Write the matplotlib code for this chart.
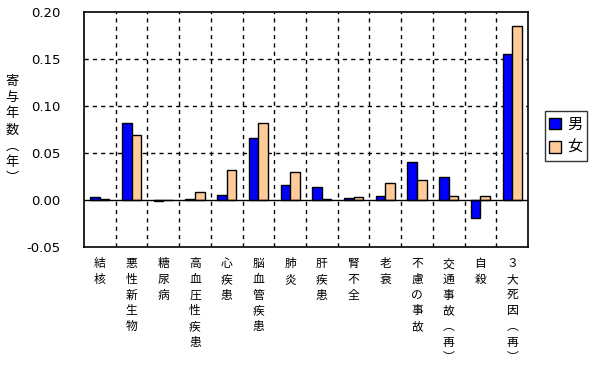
import matplotlib
matplotlib.use("Agg")
import matplotlib.pyplot as plt
import numpy as np

plt.rcParams['font.family'] = ['Noto Sans CJK JP', 'DejaVu Sans']

categories = ["結核", "悪性新生物", "糖尿病", "高血圧性疾患", "心疾患", "脳血管疾患",
              "肺炎", "肝疾患", "腎不全", "老衰", "不慮の事故", "交通事故︵再︶",
              "自殺", "３大死因︵再︶"]
male = [0.003, 0.082, -0.001, 0.001, 0.005, 0.066, 0.016, 0.013, 0.002, 0.004,
        0.040, 0.024, -0.020, 0.155]
female = [0.001, 0.069, 0.0, 0.008, 0.032, 0.082, 0.029, 0.001, 0.003, 0.018,
          0.021, 0.004, 0.004, 0.185]
yticks = [-0.05, 0.00, 0.05, 0.10, 0.15, 0.20]

W, H = 591, 368
fig = plt.figure(figsize=(W / 100, H / 100), dpi=100)
ax = fig.add_axes([84 / W, 1 - 246.5 / H, (528 - 84) / W, (246.5 - 12) / H])

x = np.arange(len(categories))
bw = 0.3
ax.bar(x - bw / 2, male, bw, color='#0000ff', edgecolor='black', linewidth=1, label='男', zorder=3)
ax.bar(x + bw / 2, female, bw, color='#ffcc99', edgecolor='black', linewidth=1, label='女', zorder=3)

ax.set_xlim(-0.5, len(categories) - 0.5)
ax.set_ylim(-0.05, 0.20)
ax.set_yticks(yticks)
ax.set_yticklabels([f"{v:.2f}" for v in yticks], family='DejaVu Sans', fontsize=9.5)
ax.tick_params(axis='y', length=0, pad=17)
ax.set_xticks([])

# grid
for v in yticks[2:-1]:
    ax.axhline(v, color='black', lw=1, ls=(0, (3, 3)), zorder=1)
for b in np.arange(0.5, len(categories) - 0.5, 1):
    ax.axvline(b, color='black', lw=1, ls=(0, (3, 3)), zorder=1)
ax.axhline(0, color='black', lw=1, zorder=4)
for s in ax.spines.values():
    s.set_linewidth(1.2)

# category labels, stacked vertically
for i, c in enumerate(categories):
    ax.text(i, -0.0615, "\n".join(c), ha='center', va='top', fontsize=8.5,
            linespacing=1.27, transform=ax.transData, clip_on=False)

# y axis label
fig.text(12 / W, 1 - 130 / H, "\n".join("寄与年数︵年︶"), ha='center', va='center',
         fontsize=9.5, linespacing=1.33)

leg = fig.legend(loc='center', bbox_to_anchor=(566 / W, 1 - 136 / H), fontsize=11,
                 frameon=True, fancybox=False, edgecolor='black', handlelength=0.8,
                 handleheight=0.8, handletextpad=0.4, borderpad=0.3, labelspacing=0.4,
                 borderaxespad=0)
leg.get_frame().set_linewidth(1)

fig.savefig("out.png", dpi=100)
